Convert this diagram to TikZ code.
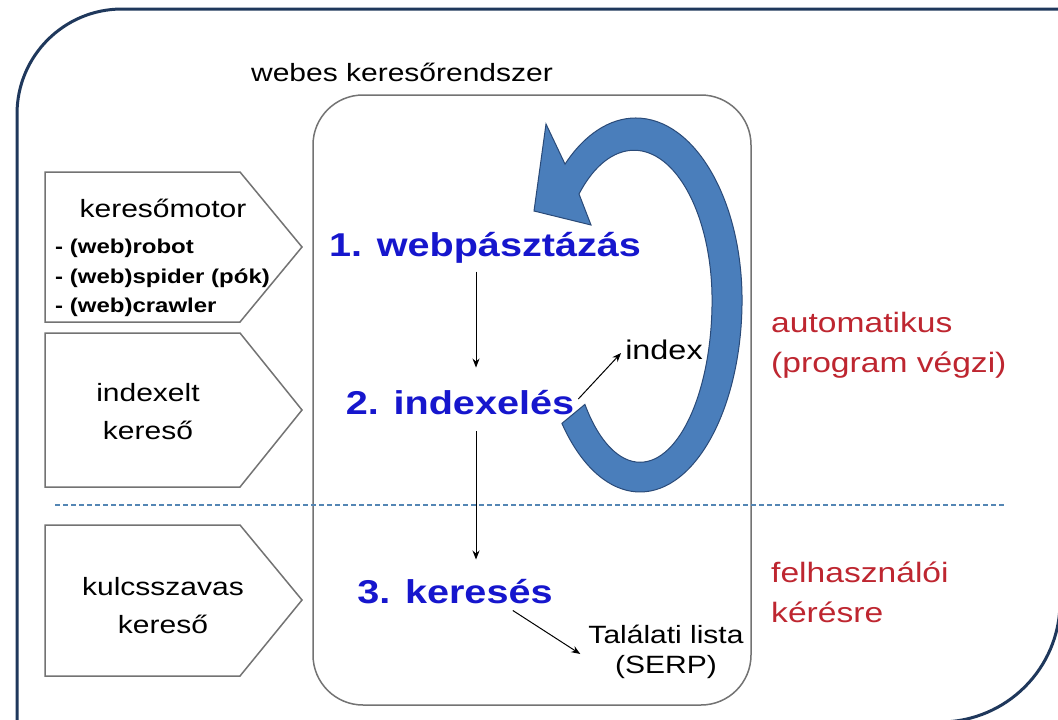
\documentclass[tikz,border=0pt]{standalone}
\usepackage{fontspec}
\setmainfont{Liberation Sans}[FakeStretch=1.2]
\usetikzlibrary{arrows.meta, positioning}
\definecolor{framecolor}{RGB}{31,56,92}
\definecolor{stepcolor}{RGB}{22,22,205}
\definecolor{autocolor}{RGB}{190,38,48}
\definecolor{loopfill}{RGB}{74,126,187}
\definecolor{loopline}{RGB}{42,74,120}
\definecolor{dashcolor}{RGB}{84,134,180}

\begin{document}
\begin{tikzpicture}[x=1pt,y=-1pt,
    lbl/.style={font=\fontsize{25}{38}\selectfont, inner sep=0pt, align=center},
    stepname/.style={font=\fontsize{33}{40}\selectfont\bfseries, text=stepcolor, inner sep=0pt},
    redlbl/.style={font=\fontsize{28}{40}\selectfont, text=autocolor, align=left, inner sep=0pt, anchor=west},
    thinarrow/.style={-{Stealth[length=9pt,width=7pt]}, line width=1pt},
    shapeline/.style={draw=black!55, line width=1.5pt}]
    \useasboundingbox (0,0) rectangle (1058,720);
    \fill[white] (0,0) rectangle (1058,720);
    % outer frame
    \draw[framecolor, line width=3pt, rounded corners=105pt] (17,730) -- (17,9) -- (1075,9);
    \draw[framecolor, line width=3pt, rounded corners=120pt] (1060,0) -- (1060,722) -- (0,722);
    % system box
    \node[shapeline, rounded corners=50pt, minimum width=438pt, minimum height=610pt] (sys) at (532,400) {};
    \node[lbl] (sysname) at (402,72) {webes keresőrendszer};
    % left boxes
    \draw[shapeline] (45,172) -- (240,172) -- (302,247) -- (240,322) -- (45,322) -- cycle;
    \draw[shapeline] (45,333) -- (240,333) -- (302,410) -- (240,487) -- (45,487) -- cycle;
    \draw[shapeline] (45,525) -- (240,525) -- (302,600) -- (240,676) -- (45,676) -- cycle;
    \node[lbl] (motor) at (163,208) {keresőmotor};
    \node[font=\fontsize{20}{29.5}\selectfont\bfseries, align=left, inner sep=0pt, anchor=west] (names) at (55,278)
        {- (web)robot\\- (web)spider (pók)\\- (web)crawler};
    \node[lbl] (indexed) at (148,412) {indexelt\\kereső};
    \node[lbl] (keyword) at (163,606) {kulcsszavas\\kereső};
    % loop arrow
    \filldraw[fill=loopfill, draw=loopline, line width=1pt]
        (561.9,423.4) arc[start angle=140, end angle=0, x radius=102, y radius=192]
        arc[start angle=0, end angle=-131.7, x radius=106.3, y radius=182]
        -- (546,124) -- (534,211) -- (591,225) -- (579,194)
        arc[start angle=-134.9, end angle=0, x radius=78, y radius=150]
        arc[start angle=0, end angle=140, x radius=72, y radius=162]
        -- cycle;
    % steps
    \node[stepname] (crawl) at (485,248) {1. webpásztázás};
    \node[stepname] (indexing) at (460,403) {2. indexelés};
    \node[stepname] (search) at (455,592) {3. keresés};
    \node[font=\fontsize{27}{30}\selectfont, inner sep=0pt] (idx) at (664,350) {index};
    \node[lbl, font=\fontsize{25}{30}\selectfont] (serp) at (666,652) {Találati lista\\(SERP)};
    \draw[thinarrow] ([xshift=-9pt,yshift=-8pt]crawl.south) -- ([xshift=16pt,yshift=23pt]indexing.north);
    \draw[thinarrow] ([xshift=16pt,yshift=-16pt]indexing.south) -- ([xshift=21pt,yshift=20pt]search.north);
    \draw[thinarrow] ([xshift=4pt,yshift=4pt]indexing.east) -- ([xshift=-4pt,yshift=-3pt]idx.west);
    \draw[thinarrow] ([xshift=-40pt,yshift=-6pt]search.south east) -- ([xshift=-8pt,yshift=-2pt]serp.west);
    % separator
    \draw[dashcolor, line width=1.5pt, dash pattern=on 5pt off 3pt] (55,505) -- (1006,505);
    \node[redlbl] (auto) at (771,345) {automatikus\\(program végzi)};
    \node[redlbl] (user) at (771,592) {felhasználói\\kérésre};
\end{tikzpicture}
\end{document}
